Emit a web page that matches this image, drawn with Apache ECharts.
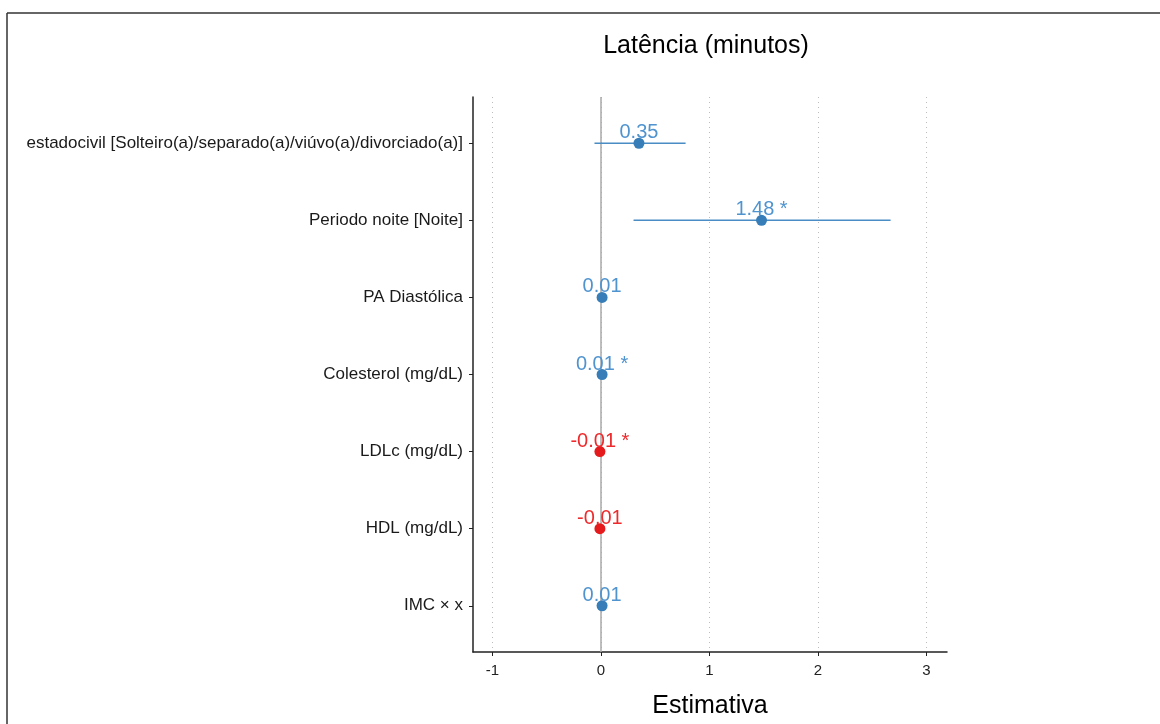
<!DOCTYPE html>
<html>
<head>
<meta charset="utf-8">
<script src="https://cdn.jsdelivr.net/npm/echarts@6/dist/echarts.min.js"></script>
<style>html,body{margin:0;padding:0;background:#fff;}#c{width:1160px;height:724px;}</style>
</head>
<body>
<div id="c"></div>
<script>
// Data (top to bottom)
const terms = [
  "estadocivil [Solteiro(a)/separado(a)/viúvo(a)/divorciado(a)]",
  "Periodo noite [Noite]",
  "PA Diastólica",
  "Colesterol (mg/dL)",
  "LDLc (mg/dL)",
  "HDL (mg/dL)",
  "IMC × x"
];
const estimates = [0.35, 1.48, 0.01, 0.01, -0.01, -0.01, 0.01];
const ciLow  = [-0.06, 0.30, 0.00, 0.00, -0.015, -0.015, 0.00];
const ciHigh = [0.78, 2.67, 0.02, 0.02, -0.005, -0.005, 0.02];
const stars  = ["", " *", "", " *", " *", "", ""];
const xTicks = [-1, 0, 1, 2, 3];

const n = terms.length;
const posCol = '#377eb8', negCol = '#e41a1c';
const posText = '#4f93cf', negText = '#ee2a2c';
const FONT = 'Liberation Sans, Arial';

const rowY = terms.map((t, i) => n - i);
const pts = estimates.map((e, i) => ({
  value: [e, rowY[i]],
  itemStyle: { color: e >= 0 ? posCol : negCol, opacity: 1 },
  label: { color: e >= 0 ? posText : negText, formatter: e.toFixed(2) + stars[i] }
}));
const bars = estimates.map((e, i) => [ciLow[i], ciHigh[i], rowY[i], e >= 0 ? 1 : 0]);

const chart = echarts.init(document.getElementById('c'));
chart.setOption({
  animation: false,
  backgroundColor: '#fff',
  title: {
    text: 'Latência (minutos)',
    left: 701, top: 29, textAlign: 'center',
    textStyle: { fontFamily: FONT, fontSize: 25, fontWeight: 'normal', color: '#000' }
  },
  graphic: [
    { type: 'line', shape: { x1: 7, y1: 13, x2: 1160, y2: 13 }, style: { stroke: '#333', lineWidth: 1.5 } },
    { type: 'line', shape: { x1: 7, y1: 13, x2: 7, y2: 724 }, style: { stroke: '#333', lineWidth: 1.5 } }
  ],
  grid: { left: 473, right: 213, top: 97, bottom: 71 },
  xAxis: {
    type: 'value', min: -1.18, max: 3.19,
    name: 'Estimativa', nameLocation: 'middle', nameGap: 42,
    nameTextStyle: { fontFamily: FONT, fontSize: 25, color: '#000' },
    axisLine: { onZero: false, lineStyle: { color: '#222', width: 1.5 } },
    axisTick: { show: true, length: 4, customValues: xTicks, lineStyle: { color: '#222' } },
    axisLabel: { customValues: xTicks, margin: 11, fontFamily: FONT, fontSize: 15, color: '#222' },
    splitLine: { show: true, lineStyle: { type: [1, 4], color: '#bdbdbd', width: 1 } }
  },
  yAxis: {
    type: 'value', min: 0.4, max: 7.6,
    axisLine: { show: true, onZero: false, lineStyle: { color: '#222', width: 1.5 } },
    axisTick: { show: true, length: 4, customValues: rowY, lineStyle: { color: '#222' } },
    axisLabel: {
      customValues: rowY, margin: 10,
      formatter: v => terms[n - v],
      fontFamily: FONT, fontSize: 17, color: '#1a1a1a'
    },
    splitLine: { show: false }
  },
  series: [
    {
      type: 'custom',
      data: bars,
      encode: { x: [0, 1], y: 2 },
      renderItem: (params, api) => {
        const a = api.coord([api.value(0), api.value(2)]);
        const b = api.coord([api.value(1), api.value(2)]);
        return {
          type: 'line',
          shape: { x1: a[0], y1: a[1], x2: b[0], y2: b[1] },
          style: { stroke: api.value(3) ? '#4a8cc4' : negCol, lineWidth: 1.5 }
        };
      },
      z: 2
    },
    {
      type: 'scatter',
      data: pts,
      symbol: 'circle', symbolSize: 11,
      label: {
        show: true, position: 'top', distance: -5,
        fontFamily: FONT, fontSize: 20
      },
      markLine: {
        silent: true, symbol: 'none',
        label: { show: false },
        lineStyle: { type: 'solid', color: '#a8a8a8', width: 1.5 },
        data: [{ xAxis: 0 }],
        z: 1
      },
      z: 3
    }
  ]
});
</script>
</body>
</html>
